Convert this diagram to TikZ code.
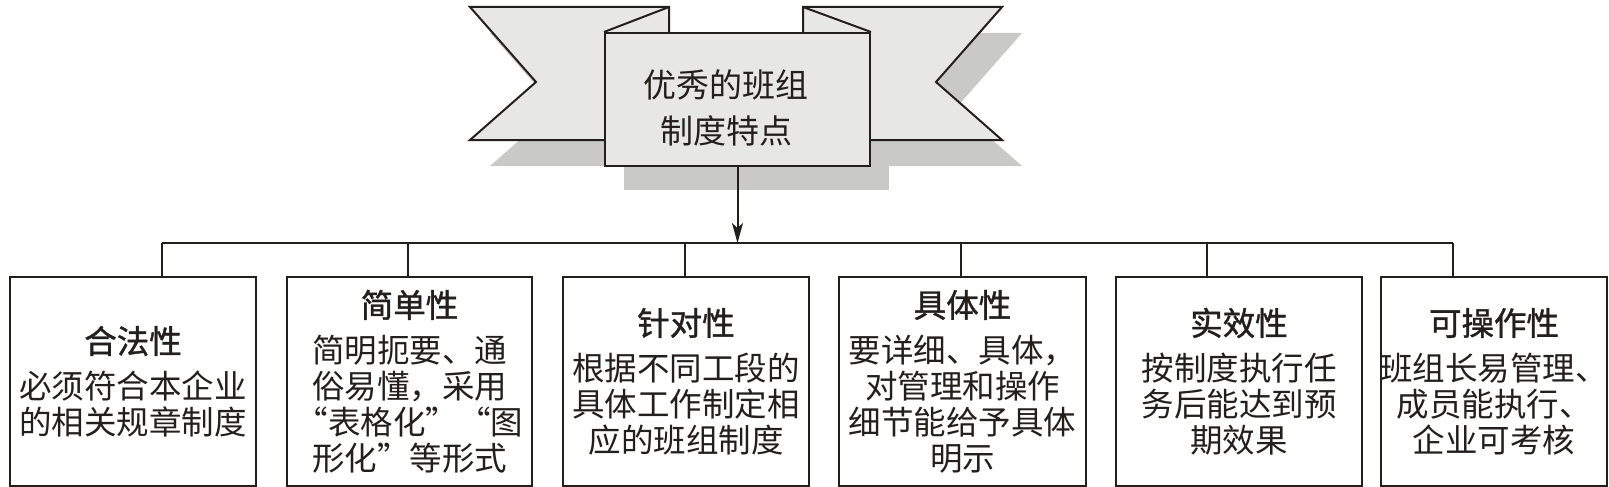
\documentclass[tikz,border=0pt]{standalone}
\usepackage{fontspec}
\newfontfamily\cjk{Noto Sans CJK SC}
\newfontfamily\cjkt[FakeBold=1.2]{Noto Sans CJK SC}
\usetikzlibrary{arrows.meta}
\definecolor{rib}{RGB}{231,231,229}
\definecolor{shad}{RGB}{201,201,199}
\definecolor{ink}{RGB}{35,31,28}
\newcommand{\ttlx}[1]{{\cjkt #1}}
\begin{document}
\begin{tikzpicture}[x=1pt,y=-1pt,line join=miter,
  ln/.style={draw=ink,line width=2pt},
  featbox/.style={ln,fill=white,minimum height=209pt,anchor=north west,inner sep=0pt},
  feattext/.style={align=center,inner sep=0pt,text=ink,font=\cjk\fontsize{32.5}{36}\selectfont}]
\useasboundingbox (0,0) rectangle (1609,487);
% shadows
\fill[shad] (490,33) -- (689,33) -- (689,166) -- (490,166) -- (556,108) -- cycle;
\fill[shad] (823,33) -- (1022,33) -- (956,108) -- (1022,166) -- (823,166) -- cycle;
\fill[shad] (624,58) rectangle (889,190);
% ribbons
\draw[ln,fill=rib] (470,7) -- (669,7) -- (669,140) -- (470,140) -- (536,82) -- cycle;
\draw[ln,fill=rib] (803,7) -- (1002,7) -- (936,82) -- (1002,140) -- (803,140) -- cycle;
% central panel
\node[ln,fill=rib,minimum width=265pt,minimum height=133pt,anchor=north west,inner sep=0pt] (top) at (604,32) {};
\node[align=center,text=ink,font=\cjk\fontsize{33}{46}\selectfont] (toptext) at (726,108) {优秀的班组\\制度特点};
\draw[ln] (top.north west) -- (669,7);
\draw[ln] (top.north east) -- (803,7);
% boxes
\node[featbox,minimum width=246pt] (b1) at (9,276) {};
\node[featbox,minimum width=245pt] (b2) at (286,276) {};
\node[featbox,minimum width=246pt] (b3) at (562,276) {};
\node[featbox,minimum width=247pt] (b4) at (838,276) {};
\node[featbox,minimum width=246pt] (b5) at (1115,276) {};
\node[featbox,minimum width=226pt] (b6) at (1380,276) {};
\node[feattext] (t1) at (b1.center) {\ttlx{合法性}\\[9pt]必须符合本企业\\的相关规章制度};
\node[feattext] (t2) at (b2.center) {\ttlx{简单性}\\[9pt]简明扼要、通\\俗易懂，采用\\“表格化”“图\\形化”等形式};
\node[feattext] (t3) at (b3.center) {\ttlx{针对性}\\[9pt]根据不同工段的\\具体工作制定相\\应的班组制度};
\node[feattext] (t4) at (b4.center) {\ttlx{具体性}\\[9pt]要详细、具体，\\对管理和操作\\细节能给予具体\\明示};
\node[feattext] (t5) at (b5.center) {\ttlx{实效性}\\[9pt]按制度执行任\\务后能达到预\\期效果};
\node[feattext] (t6) at (b6.center) {\ttlx{可操作性}\\[9pt]班组长易管理、\\成员能执行、\\企业可考核};
% bus
\coordinate (j1) at (162,243);
\coordinate (j2) at (408,243);
\coordinate (j3) at (685,243);
\coordinate (j4) at (961,243);
\coordinate (j5) at (1207,243);
\coordinate (j6) at (1453,243);
\draw[ln] (j1) -- (j6);
\draw[ln] (j1) -- (j1 |- b1.north);
\draw[ln] (j2) -- (j2 |- b2.north);
\draw[ln] (j3) -- (j3 |- b3.north);
\draw[ln] (j4) -- (j4 |- b4.north);
\draw[ln] (j5) -- (j5 |- b5.north);
\draw[ln] (j6) -- (j6 |- b6.north);
\draw[ln,-{Stealth[length=20pt,width=11pt,inset=5pt]}] (top.south) -- (top.south |- j1);
\end{tikzpicture}
\end{document}
